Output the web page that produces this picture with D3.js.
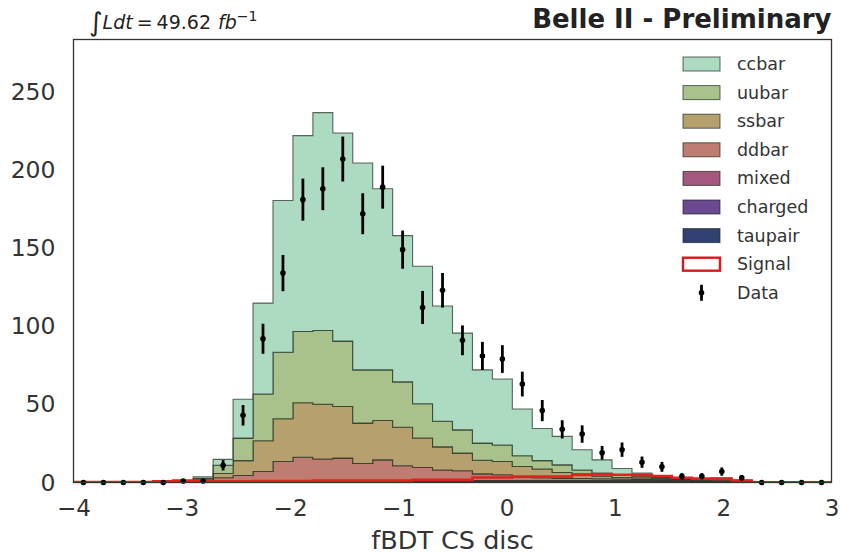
<!DOCTYPE html>
<html>
<head>
<meta charset="utf-8">
<script src="https://cdn.jsdelivr.net/npm/d3@7/dist/d3.min.js"></script>
<style>
  html, body { margin: 0; padding: 0; background: #ffffff; }
  svg { display: block; font-family: "DejaVu Sans", sans-serif; }
</style>
</head>
<body>
<div id="chart"></div>
<script>
// ---------------- DATA (38 bins from -4 to 3) ----------------
const binLow = -4;
const binHigh = 3;
const nBins = 38;

const xTicks = [-4, -3, -2, -1, 0, 1, 2, 3];
const yTicks = [0, 50, 100, 150, 200, 250];

const taupair = [0,0,0,0,0,0,0,0, 0.1,0.1,0.1,0.1,0.1,0.1,0.1,0.1,0.1, 0.4,0.4,0.4,0.4,0.4,0.4,0.4,0.4,0.4,0.4,0.4,0.4,0.4,0.4, 0.2,0.2,0.1, 0,0,0,0];
const charged = [0,0,0,0,0,0,0,0, 0.1,0.1,0.1,0.1,0.1,0.1,0.1,0.1,0.1, 0.4,0.4,0.4,0.4,0.4,0.4,0.4,0.4,0.4,0.4,0.4,0.4,0.4,0.4, 0.2,0.2,0.1, 0,0,0,0];
const mixed   = [0,0,0,0,0,0,0,0, 0.2,0.2,0.2,0.2,0.2,0.2,0.2,0.2,0.2, 0.5,0.5,0.5,0.5,0.5,0.5,0.5,0.5,0.5,0.5,0.5,0.5,0.5,0.5, 0.2,0.2,0.1, 0,0,0,0];
const ddbar   = [0,0,0,0,0.2,0.4,0.8,3.0,4.1,6.6,13.0,15.8,14.6,15.2,11.8,14.1,10.3,8.3,6.7,6.2,4.2,3.7,2.2,1.7,1.5,1.3,1.1,0.9,0.7,0.5,0.2,0.4,0.4,0.2,0,0,0,0];
const ssbar   = [0,0,0,0,0.1,0.2,0.7,2.8,9.5,19.7,27.4,34.8,35.1,33.0,25.8,25.2,24.7,18.9,14.8,11.3,8.7,8.4,6.7,5.6,3.6,3.0,1.6,1.0,1.0,0.7,0.5,0.4,0.5,0.2,0,0,0,0];
const uubar   = [0,0,0,0,0.1,0.2,1.0,5.2,14.4,29.9,42.6,45.6,47.2,41.9,34.1,32.4,29.0,21.9,16.4,14.9,11.0,10.6,6.9,5.4,4.9,2.4,2.0,1.5,1.0,0.8,0.5,0.4,0.5,0.3,0,0,0,0];
const ccbar   = [0,0,0,0,0.1,0.2,1.1,3.8,24.9,58.2,97.1,125.4,139.4,133.2,132.4,115.9,93.6,88.0,73.8,61.9,46.9,42.2,29.9,20.6,18.2,13.0,8.5,4.3,2.0,1.2,0.5,0.4,1.0,0.5,0,0,0,0];
const signal  = [0.3,0.3,0.3,0.3,0.8,1.2,0.8,0.8,0.8,1.0,1.0,1.0,1.2,1.2,1.2,1.2,1.2,1.7,1.7,1.7,3.2,3.2,3.8,3.8,3.8,4.8,5.2,5.0,4.8,4.2,3.0,2.5,2.3,1.3,0.2,0.2,0.2,0.2];
const dataCounts = [0,0,0,0,0,1,1,11,43,92,134,181,188,207,172,189,149,112,123,91,81,79,63,46,34,31,19,21,13,10,4,4,7,3,0,0,0,0];

// stack order bottom -> top
const stackNames  = ["taupair", "charged", "mixed", "ddbar", "ssbar", "uubar", "ccbar"];
const stackSeries = [taupair, charged, mixed, ddbar, ssbar, uubar, ccbar];
const stackColors = ["#2f4272", "#6c4a93", "#a5587f", "#bf7c71", "#b6a06e", "#a9c28c", "#addbc2"];

const legendNames = ["ccbar", "uubar", "ssbar", "ddbar", "mixed", "charged", "taupair"];

// ---------------- LAYOUT ----------------
const W = 841, H = 554;
const plot = { left: 73.5, right: 831.5, top: 39.5, bottom: 482.5 };

const svg = d3.select("#chart").append("svg")
  .attr("width", W).attr("height", H);

const x = d3.scaleLinear().domain([binLow, binHigh]).range([plot.left, plot.right]);
const y = d3.scaleLinear().domain([0, 283.5]).range([plot.bottom, plot.top]);

const binW = (binHigh - binLow) / nBins;
const edges = d3.range(nBins + 1).map(i => binLow + i * binW);
const centers = d3.range(nBins).map(i => binLow + (i + 0.5) * binW);

// clip
svg.append("defs").append("clipPath").attr("id", "clip")
  .append("rect").attr("x", plot.left).attr("y", plot.top)
  .attr("width", plot.right - plot.left).attr("height", plot.bottom - plot.top);

const g = svg.append("g").attr("clip-path", "url(#clip)");

// cumulative stacks
const table = d3.range(nBins).map(i => {
  const o = {};
  stackNames.forEach((n, k) => o[n] = stackSeries[k][i]);
  return o;
});
const stacked = d3.stack().keys(stackNames)(table);

function stepPolygon(layer) {
  const pts = [];
  for (let i = 0; i < nBins; i++) {
    pts.push([x(edges[i]), y(layer[i][1])]);
    pts.push([x(edges[i + 1]), y(layer[i][1])]);
  }
  for (let i = nBins - 1; i >= 0; i--) {
    pts.push([x(edges[i + 1]), y(layer[i][0])]);
    pts.push([x(edges[i]), y(layer[i][0])]);
  }
  return "M" + pts.map(p => p.join(",")).join("L") + "Z";
}

stacked.forEach((layer, k) => {
  g.append("path")
    .attr("d", stepPolygon(layer))
    .attr("fill", stackColors[k])
    .attr("stroke", "#1f2a1f")
    .attr("stroke-opacity", 0.7)
    .attr("stroke-width", 1.1)
    .attr("stroke-linejoin", "miter");
});

// signal step outline
const sigPts = [];
sigPts.push([x(edges[0]), y(0)]);
for (let i = 0; i < nBins; i++) {
  sigPts.push([x(edges[i]), y(signal[i])]);
  sigPts.push([x(edges[i + 1]), y(signal[i])]);
}
sigPts.push([x(edges[nBins]), y(0)]);
g.append("path")
  .attr("d", d3.line()(sigPts))
  .attr("fill", "none")
  .attr("stroke", "#e3211c")
  .attr("stroke-width", 2.6);

// data points with sqrt(N) errors
const dg = svg.append("g");
dataCounts.forEach((v, i) => {
  const cx = x(centers[i]);
  const err = Math.sqrt(v);
  if (err > 0) {
    dg.append("line")
      .attr("x1", cx).attr("x2", cx)
      .attr("y1", y(v - err)).attr("y2", y(v + err))
      .attr("stroke", "#000").attr("stroke-width", 2.8);
  }
  dg.append("circle").attr("cx", cx).attr("cy", y(v)).attr("r", 2.8).attr("fill", "#000");
});

// frame
svg.append("rect")
  .attr("x", plot.left).attr("y", plot.top)
  .attr("width", plot.right - plot.left).attr("height", plot.bottom - plot.top)
  .attr("fill", "none").attr("stroke", "#333").attr("stroke-width", 1.3);

// axes (no tick marks)
const xAxis = d3.axisBottom(x).tickValues(xTicks).tickSize(0).tickPadding(17)
  .tickFormat(d => d < 0 ? "\u2212" + Math.abs(d) : String(d));
const xa = svg.append("g").attr("transform", `translate(0,${plot.bottom})`).call(xAxis);
xa.select(".domain").remove();
xa.selectAll("text").attr("font-size", 23).attr("fill", "#333").attr("font-family", "DejaVu Sans");

const yAxis = d3.axisLeft(y).tickValues(yTicks).tickSize(0).tickPadding(18);
const ya = svg.append("g").attr("transform", `translate(${plot.left},0)`).call(yAxis);
ya.select(".domain").remove();
ya.selectAll("text").attr("font-size", 23.5).attr("fill", "#333").attr("font-family", "DejaVu Sans");

// x label
svg.append("text")
  .attr("x", (plot.left + plot.right) / 2).attr("y", 549)
  .attr("text-anchor", "middle").attr("font-size", 25.5).attr("fill", "#333")
  .text("fBDT CS disc");

// title right
svg.append("text")
  .attr("x", plot.right).attr("y", 28)
  .attr("text-anchor", "end").attr("font-size", 26).attr("font-weight", "bold").attr("fill", "#222")
  .text("Belle II - Preliminary");

// luminosity (mathtext-like)
const lum = svg.append("text").attr("x", 89).attr("y", 29).attr("font-size", 19).attr("fill", "#222");
lum.append("tspan").attr("font-size", 26).attr("dy", 2).text("\u222B");
lum.append("tspan").attr("font-style", "italic").attr("dy", -2).text("Ldt");
lum.append("tspan").attr("dx", 4).text("=");
lum.append("tspan").attr("dx", 4).text("49.62");
lum.append("tspan").attr("font-style", "italic").attr("dx", 7).text("fb");
lum.append("tspan").attr("font-size", 14).attr("dy", -8).text("\u22121");

// legend
const lg = svg.append("g");
const legX = 683, legY0 = 64, legStep = 28.6;
legendNames.forEach((n, k) => {
  const idx = stackNames.indexOf(n);
  const yy = legY0 + k * legStep;
  lg.append("rect").attr("x", legX).attr("y", yy - 7).attr("width", 37).attr("height", 14)
    .attr("fill", stackColors[idx]).attr("stroke", "#1f2a1f").attr("stroke-opacity", 0.7).attr("stroke-width", 1);
  lg.append("text").attr("x", 737).attr("y", yy + 6).attr("font-size", 17.5).attr("fill", "#333").text(n);
});
{
  const yy = legY0 + 7 * legStep;
  lg.append("rect").attr("x", legX).attr("y", yy - 6.5).attr("width", 37).attr("height", 13)
    .attr("fill", "none").attr("stroke", "#d7191c").attr("stroke-width", 2.4);
  lg.append("text").attr("x", 737).attr("y", yy + 6).attr("font-size", 17.5).attr("fill", "#333").text("Signal");
  const yd = legY0 + 8 * legStep;
  lg.append("line").attr("x1", 701.5).attr("x2", 701.5).attr("y1", yd - 8).attr("y2", yd + 8)
    .attr("stroke", "#000").attr("stroke-width", 2.8);
  lg.append("circle").attr("cx", 701.5).attr("cy", yd).attr("r", 2.8).attr("fill", "#000");
  lg.append("text").attr("x", 737).attr("y", yd + 6).attr("font-size", 17.5).attr("fill", "#333").text("Data");
}
</script>
</body>
</html>
